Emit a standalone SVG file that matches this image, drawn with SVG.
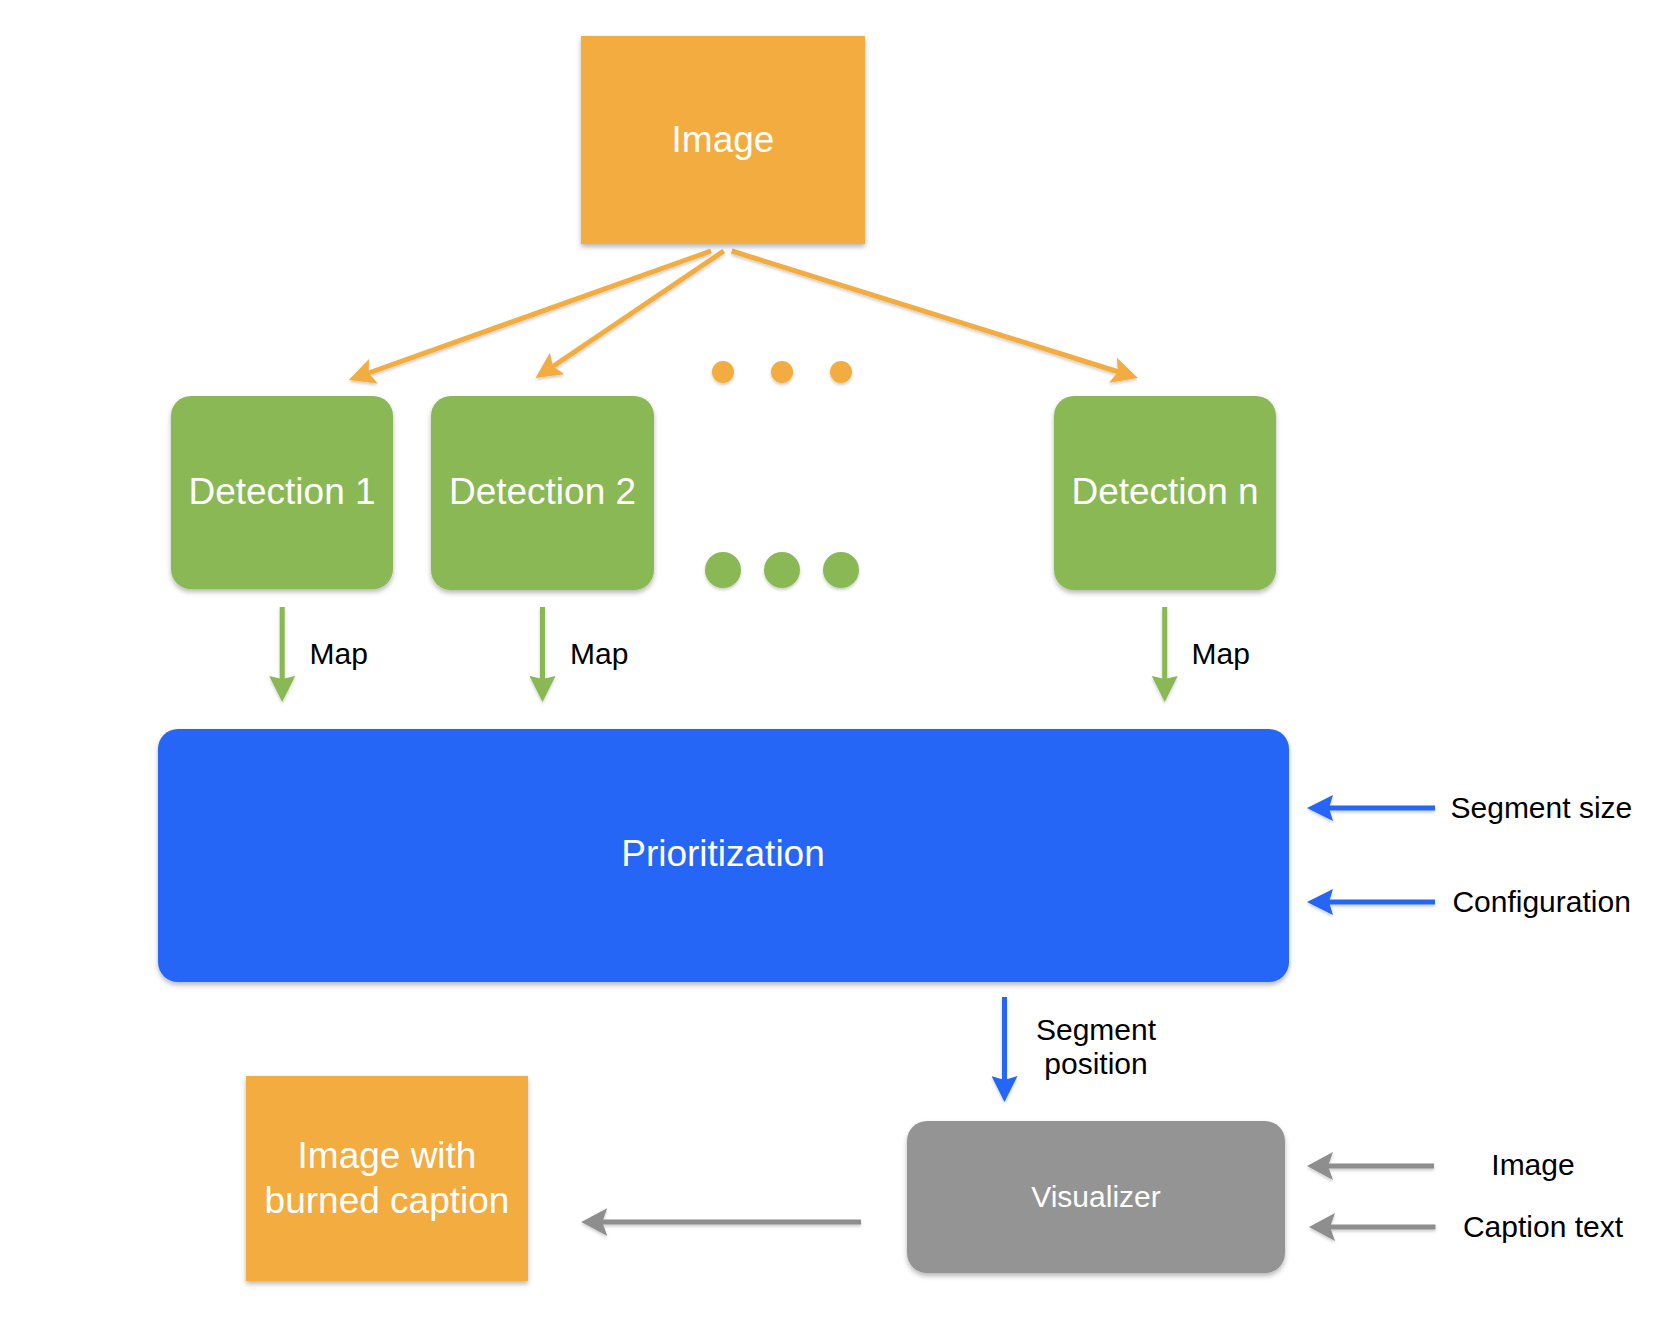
<svg xmlns="http://www.w3.org/2000/svg" width="1677" height="1324" viewBox="0 0 1677 1324">
<style>
.lbl{font-family:"Liberation Sans",Arial,Helvetica,sans-serif;fill:#fff;text-anchor:middle}
.big{font-size:37px}
.mid{font-size:30px}
.ext{font-family:"Liberation Sans",Arial,Helvetica,sans-serif;fill:#000;font-size:30px}
.or{fill:#F3AC3F}
.gr{fill:#8AB855}
.bl{fill:#2566F6}
.gy{fill:#949494}
.c{fill:none;stroke-width:5}
</style>
<defs>
<filter id="sh" x="-10%" y="-10%" width="120%" height="125%">
<feDropShadow dx="0" dy="3" stdDeviation="2.5" flood-color="#000" flood-opacity="0.28"/>
</filter>
<filter id="ash" x="-20%" y="-50%" width="140%" height="200%">
<feDropShadow dx="0" dy="2" stdDeviation="1.5" flood-color="#000" flood-opacity="0.2"/>
</filter>
<marker id="mo" markerUnits="userSpaceOnUse" viewBox="0 0 26 26" refX="11" refY="13" markerWidth="26" markerHeight="26" orient="auto"><path d="M0,0 L26,13 L0,26 L5,13 Z" fill="#F3AC3F"/></marker>
<marker id="mg" markerUnits="userSpaceOnUse" viewBox="0 0 26 26" refX="11" refY="13" markerWidth="26" markerHeight="26" orient="auto"><path d="M0,0 L26,13 L0,26 L3,13 Z" fill="#8AB855"/></marker>
<marker id="mb" markerUnits="userSpaceOnUse" viewBox="0 0 26 26" refX="11" refY="13" markerWidth="26" markerHeight="26" orient="auto"><path d="M0,0 L26,13 L0,26 L4,13 Z" fill="#2566F6"/></marker>
<marker id="my" markerUnits="userSpaceOnUse" viewBox="0 0 26 28" refX="11" refY="14" markerWidth="26" markerHeight="28" orient="auto"><path d="M0,0 L26,14 L0,28 L5,14 Z" fill="#8E8E8E"/></marker>
</defs>
<rect width="1677" height="1324" fill="#fff"/>

<g id="connectors" filter="url(#ash)">
<line class="c" x1="711" y1="251" x2="363" y2="375" stroke="#F3AC3F" marker-end="url(#mo)"/>
<line class="c" x1="723.7" y1="251" x2="548" y2="369.7" stroke="#F3AC3F" marker-end="url(#mo)"/>
<line class="c" x1="731.7" y1="251" x2="1123.6" y2="373.5" stroke="#F3AC3F" marker-end="url(#mo)"/>
<line class="c" x1="282.2" y1="607" x2="282.2" y2="687" stroke="#8AB855" stroke-width="4" marker-end="url(#mg)"/>
<line class="c" x1="542.5" y1="607" x2="542.5" y2="687" stroke="#8AB855" stroke-width="4" marker-end="url(#mg)"/>
<line class="c" x1="1164.7" y1="607" x2="1164.7" y2="687" stroke="#8AB855" stroke-width="4" marker-end="url(#mg)"/>
<line class="c" x1="1435" y1="808" x2="1322" y2="808" stroke="#2566F6" marker-end="url(#mb)"/>
<line class="c" x1="1435" y1="902" x2="1322" y2="902" stroke="#2566F6" marker-end="url(#mb)"/>
<line class="c" x1="1004.5" y1="997" x2="1004.5" y2="1087" stroke="#2566F6" stroke-width="4" marker-end="url(#mb)"/>
<line class="c" x1="861" y1="1222" x2="596.3" y2="1222" stroke="#8E8E8E" marker-end="url(#my)"/>
<line class="c" x1="1434" y1="1166" x2="1322" y2="1166" stroke="#8E8E8E" marker-end="url(#my)"/>
<line class="c" x1="1435.5" y1="1227" x2="1324" y2="1227" stroke="#8E8E8E" marker-end="url(#my)"/>
</g>

<g id="edge-labels">
<text class="ext" x="309.5" y="664">Map</text>
<text class="ext" x="570" y="664">Map</text>
<text class="ext" x="1191.6" y="664">Map</text>
<text class="ext" x="1450.5" y="818">Segment size</text>
<text class="ext" x="1452.4" y="912">Configuration</text>
<text class="ext" x="1096" y="1040" text-anchor="middle">Segment</text>
<text class="ext" x="1096" y="1074" text-anchor="middle">position</text>
<text class="ext" x="1533" y="1175" text-anchor="middle">Image</text>
<text class="ext" x="1543" y="1237" text-anchor="middle">Caption text</text>
</g>

<g id="node-image">
<rect class="or" x="581" y="36" width="284" height="208" filter="url(#sh)"/>
<text class="lbl big" x="723" y="152">Image</text>
</g>

<g id="node-detection1">
<rect class="gr" x="171" y="396" width="222" height="193" rx="20" filter="url(#sh)"/>
<text class="lbl big" x="282" y="504">Detection 1</text>
</g>
<g id="node-detection2">
<rect class="gr" x="431" y="396" width="223" height="194" rx="20" filter="url(#sh)"/>
<text class="lbl big" x="542.5" y="504">Detection 2</text>
</g>
<g id="node-detectionn">
<rect class="gr" x="1054" y="396" width="222" height="194" rx="20" filter="url(#sh)"/>
<text class="lbl big" x="1165" y="504">Detection n</text>
</g>

<g id="dots-orange" filter="url(#ash)">
<circle class="or" cx="723" cy="372" r="11"/>
<circle class="or" cx="782" cy="372" r="11"/>
<circle class="or" cx="841" cy="372" r="11"/>
</g>
<g id="dots-green" filter="url(#ash)">
<circle class="gr" cx="723" cy="570" r="18"/>
<circle class="gr" cx="782" cy="570" r="18"/>
<circle class="gr" cx="841" cy="570" r="18"/>
</g>

<g id="node-prioritization">
<rect class="bl" x="158" y="729" width="1131" height="253" rx="20" filter="url(#sh)"/>
<text class="lbl big" x="723" y="866">Prioritization</text>
</g>

<g id="node-visualizer">
<rect class="gy" x="907" y="1121" width="378" height="152" rx="20" filter="url(#sh)"/>
<text class="lbl mid" x="1096" y="1207">Visualizer</text>
</g>

<g id="node-output">
<rect class="or" x="246" y="1076" width="282" height="205" filter="url(#sh)"/>
<text class="lbl big" x="387" y="1168">Image with</text>
<text class="lbl big" x="387" y="1213">burned caption</text>
</g>
</svg>
